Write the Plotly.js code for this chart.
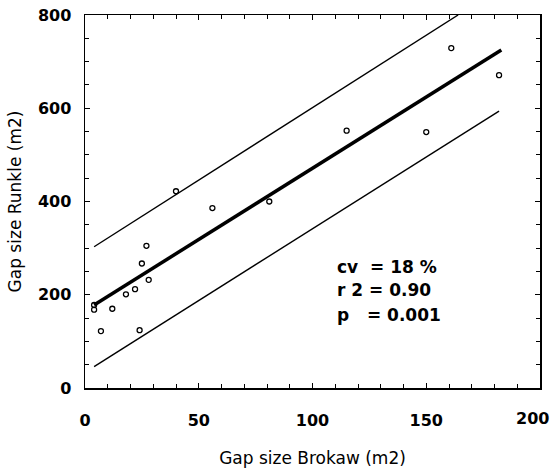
<!DOCTYPE html>
<html>
<head>
<meta charset="utf-8">
<script src="https://cdn.plot.ly/plotly-3.0.1.min.js"></script>
<style>html,body{margin:0;padding:0;background:#fff;}#chart{width:553px;height:471px;}</style>
</head>
<body>
<div id="chart"></div>
<script>
// Observed gap sizes
const brokaw = [4, 4, 7, 12, 18, 22, 24, 25, 27, 28, 40, 56, 81, 115, 150, 161, 182];
const runkle = [178, 168, 122, 170, 201, 212, 124, 267, 305, 232, 422, 386, 400, 552, 549, 729, 671];
// Regression line and band lines (end points)
const fitX = [4, 183];
const fitY = [178, 725];
const upperX = [4, 164];
const upperY = [303, 800];
const lowerX = [4, 182];
const lowerY = [46, 594];
// Statistics text
const statLines = ["cv  = 18 %", "r 2 = 0.90", "p   = 0.001"];
const statY = [260, 210, 157];
const xTickVals = [0, 50, 100, 150, 200];
const xTickText = ["0", "50", "100", "150", "200"];
const yTickVals = [0, 200, 400, 600, 800];

const font = "DejaVu Sans, Liberation Sans, Arial, sans-serif";
const tickFont = {family: font, size: 16, color: "#000", weight: "bold"};
const traces = [
  {x: upperX, y: upperY, mode: "lines", line: {color: "#000", width: 1.4}, hoverinfo: "skip"},
  {x: lowerX, y: lowerY, mode: "lines", line: {color: "#000", width: 1.4}, hoverinfo: "skip"},
  {x: fitX, y: fitY, mode: "lines", line: {color: "#000", width: 3.5}, hoverinfo: "skip"},
  {x: brokaw, y: runkle, mode: "markers", type: "scatter",
   marker: {symbol: "circle-open", size: 5, color: "#000", line: {width: 1.3, color: "#000"}}}
];
const axisCommon = {
  showgrid: false, zeroline: false, showline: true, linecolor: "#000", linewidth: 1.5,
  mirror: "ticks", ticks: "inside", ticklen: 5, tickwidth: 1, tickcolor: "#000",
  tickfont: tickFont
};
// the last x label sits at the right edge of the figure: drawn right-aligned so it stays inside
const lastX = xTickText.length - 1;
const layout = {
  width: 553, height: 471,
  margin: {l: 85, r: 13, t: 15, b: 83},
  paper_bgcolor: "#fff", plot_bgcolor: "#fff",
  showlegend: false,
  xaxis: Object.assign({}, axisCommon, {
    range: [0, 200], tickmode: "array", tickvals: xTickVals,
    ticktext: xTickText.map((t, i) => i === lastX ? "" : t),
    ticklabelstandoff: 17,
    minor: {dtick: 10, ticks: "inside", ticklen: 4, tickcolor: "#000"},
    title: {text: "Gap size Brokaw (m2)", font: {family: font, size: 17, color: "#000"}, standoff: 23}
  }),
  yaxis: Object.assign({}, axisCommon, {
    range: [0, 800], tickmode: "array", tickvals: yTickVals, ticktext: yTickVals.map(String),
    ticklabelstandoff: 9,
    minor: {dtick: 50, ticks: "inside", ticklen: 4, tickcolor: "#000"},
    title: {text: "Gap size Runkle (m2)", font: {family: font, size: 17, color: "#000"}, standoff: 12}
  }),
  annotations: statLines.map((t, i) => ({
    x: 110, y: statY[i], xref: "x", yref: "y", text: t, showarrow: false,
    xanchor: "left", yanchor: "middle",
    font: {family: font, size: 17, color: "#000", weight: "bold"}
  })).concat([{
    x: xTickVals[lastX], y: 0, xref: "x", yref: "paper", text: xTickText[lastX], showarrow: false,
    xanchor: "right", yanchor: "middle", xshift: 11, yshift: -30, font: tickFont
  }])
};
Plotly.newPlot("chart", traces, layout, {staticPlot: true});
</script>
</body>
</html>
